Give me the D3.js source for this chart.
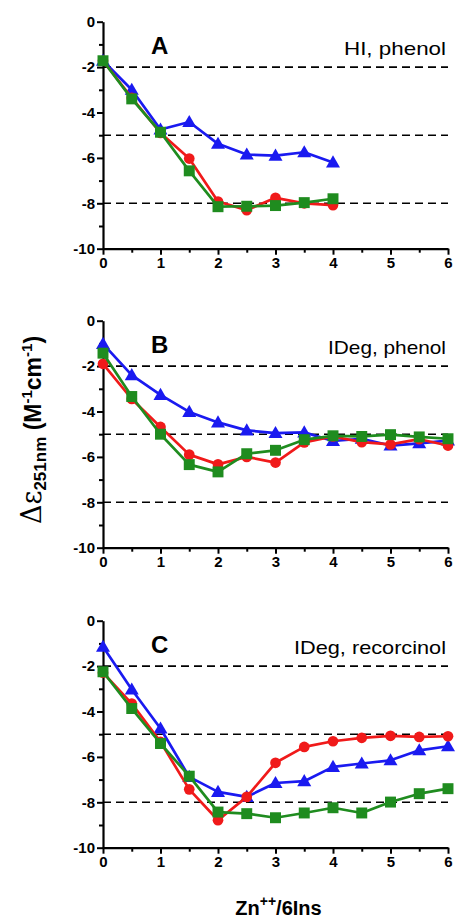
<!DOCTYPE html>
<html>
<head>
<meta charset="utf-8">
<script src="https://cdn.jsdelivr.net/npm/d3@7"></script>
<style>
  html, body { margin: 0; padding: 0; background: #fff; }
  svg { display: block; }
  text { font-family: Arial, "Liberation Sans", Helvetica, sans-serif; }
</style>
</head>
<body>
<svg id="chart" width="455" height="918"></svg>
<script>
// ---------------- DATA ----------------
const panelLetters = ["A", "B", "C"];
const panelNotes = ["HI, phenol", "IDeg, phenol", "IDeg, recorcinol"];

const xA = [0, 0.5, 1, 1.5, 2, 2.5, 3, 3.5, 4];
const xBC = [0, 0.5, 1, 1.5, 2, 2.5, 3, 3.5, 4, 4.5, 5, 5.5, 6];

// Panel A (HI, phenol)
const aBlue  = [-1.72, -3.0, -4.75, -4.42, -5.38, -5.85, -5.9, -5.75, -6.2];
const aRed   = [-1.72, -3.35, -4.9, -6.03, -7.92, -8.3, -7.76, -8.0, -8.08];
const aGreen = [-1.72, -3.4, -4.87, -6.57, -8.15, -8.13, -8.1, -7.97, -7.8];

// Panel B (IDeg, phenol)
const bBlue  = [-1.02, -2.4, -3.27, -4.02, -4.48, -4.83, -4.95, -4.92, -5.3, -5.2, -5.5, -5.4, -5.28];
const bRed   = [-1.9, -3.45, -4.68, -5.9, -6.33, -6.0, -6.25, -5.36, -5.1, -5.35, -5.45, -5.22, -5.5];
const bGreen = [-1.43, -3.34, -5.0, -6.34, -6.66, -5.86, -5.71, -5.24, -5.07, -5.1, -5.02, -5.12, -5.2];

// Panel C (IDeg, recorcinol)
const cBlue  = [-1.15, -3.03, -4.75, -6.88, -7.54, -7.76, -7.15, -7.07, -6.44, -6.29, -6.15, -5.71, -5.53];
const cRed   = [-2.29, -3.65, -5.34, -7.43, -8.79, -7.76, -6.26, -5.56, -5.31, -5.16, -5.07, -5.12, -5.09];
const cGreen = [-2.25, -3.87, -5.41, -6.85, -8.43, -8.5, -8.68, -8.47, -8.24, -8.47, -7.99, -7.62, -7.4];

const refLines = [-2, -5, -8];
const yMajorTicks = [0, -2, -4, -6, -8, -10];
const yMinorTicks = [-1, -3, -5, -7, -9];
const xMajorTicks = [0, 1, 2, 3, 4, 5, 6];
const xMinorTicks = [0.5, 1.5, 2.5, 3.5, 4.5, 5.5];

const panels = [
  { x: xA, series: [aBlue, aRed, aGreen] },
  { x: xBC, series: [bBlue, bRed, bGreen] },
  { x: xBC, series: [cBlue, cRed, cGreen] }
];

// ---------------- STYLE / LAYOUT ----------------
const colors = ["#1a1af0", "#f01a1a", "#1f8c1f"];
const shapes = [d3.symbolTriangle, d3.symbolCircle, d3.symbolSquare];
const shapeSizes = [85, 90, 120];
const panelTops = [21.7, 320.7, 620.7];
const plotH = 227;
const xLeft = 103, xRight = 448;
const noteWidths = [102, 118, 152];

const svg = d3.select("#chart");
const x = d3.scaleLinear().domain([0, 6]).range([xLeft, xRight]);

panels.forEach((p, i) => {
  const top = panelTops[i];
  const y = d3.scaleLinear().domain([-10, 0]).range([top + plotH, top]);
  const g = svg.append("g");

  // reference dashed lines
  g.selectAll("line.ref").data(refLines).enter().append("line")
    .attr("x1", x(0)).attr("x2", x(6))
    .attr("y1", d => y(d)).attr("y2", d => y(d))
    .attr("stroke", "#000").attr("stroke-width", 1.6)
    .attr("stroke-dasharray", "8,5");

  // y axis minor
  g.append("g").attr("transform", `translate(${xLeft},0)`)
    .call(d3.axisLeft(y).tickValues(yMinorTicks).tickSize(4).tickSizeOuter(0).tickFormat(""))
    .call(a => a.select(".domain").remove())
    .call(a => a.selectAll("line").attr("stroke-width", 2));
  // y axis major
  const ya = g.append("g").attr("transform", `translate(${xLeft},0)`)
    .call(d3.axisLeft(y).tickValues(yMajorTicks).tickSize(6).tickSizeOuter(0).tickPadding(2)
      .tickFormat(d => String(d)));
  ya.select(".domain").attr("stroke-width", 2.2);
  ya.selectAll("line").attr("stroke-width", 2);
  ya.selectAll("text").attr("font-size", 15).attr("font-weight", "bold").attr("fill", "#000")
    .attr("font-family", "Arial, 'Liberation Sans', sans-serif");

  // x axis minor
  g.append("g").attr("transform", `translate(0,${top + plotH})`)
    .call(d3.axisBottom(x).tickValues(xMinorTicks).tickSize(4).tickSizeOuter(0).tickFormat(""))
    .call(a => a.select(".domain").remove())
    .call(a => a.selectAll("line").attr("stroke-width", 2));
  const xa = g.append("g").attr("transform", `translate(0,${top + plotH})`)
    .call(d3.axisBottom(x).tickValues(xMajorTicks).tickSize(6).tickSizeOuter(0).tickPadding(3)
      .tickFormat(d => String(d)));
  xa.select(".domain").attr("stroke-width", 2.2);
  xa.selectAll("line").attr("stroke-width", 2);
  xa.selectAll("text").attr("font-size", 15).attr("font-weight", "bold").attr("fill", "#000")
    .attr("font-family", "Arial, 'Liberation Sans', sans-serif");

  // series
  p.series.forEach((vals, s) => {
    const pts = vals.map((v, k) => [p.x[k], v]);
    g.append("path").datum(pts)
      .attr("fill", "none").attr("stroke", colors[s]).attr("stroke-width", 2.7)
      .attr("stroke-linejoin", "round")
      .attr("d", d3.line().x(d => x(d[0])).y(d => y(d[1])));
    g.selectAll(null).data(pts).enter().append("path")
      .attr("transform", d => `translate(${x(d[0])},${y(d[1]) + (s === 0 ? 1 : 0)})`)
      .attr("d", d3.symbol().type(shapes[s]).size(shapeSizes[s]))
      .attr("fill", colors[s]);
  });

  // panel letter
  g.append("text").attr("x", 151).attr("y", top + 32.5)
    .attr("font-size", 24).attr("font-weight", "bold").attr("fill", "#000")
    .text(panelLetters[i]);
  // note
  g.append("text").attr("x", 446).attr("y", top + 33).attr("text-anchor", "end")
    .attr("font-size", 19).attr("fill", "#000")
    .attr("textLength", noteWidths[i]).attr("lengthAdjust", "spacingAndGlyphs")
    .text(panelNotes[i]);
});

// y axis title
const yt = svg.append("text")
  .attr("transform", "translate(41,430) rotate(-90)")
  .attr("text-anchor", "middle").attr("fill", "#000");
yt.append("tspan").attr("font-family", "'DejaVu Serif', 'Liberation Serif', serif").attr("font-size", 27).text("Δε");
yt.append("tspan").attr("font-weight", "bold").attr("font-size", 17).attr("dy", 5).text("251nm");
yt.append("tspan").attr("font-weight", "bold").attr("font-size", 23).attr("dy", -5).text(" (M");
yt.append("tspan").attr("font-weight", "bold").attr("font-size", 15).attr("dy", -9).text("-1");
yt.append("tspan").attr("font-weight", "bold").attr("font-size", 23).attr("dy", 9).text("cm");
yt.append("tspan").attr("font-weight", "bold").attr("font-size", 15).attr("dy", -9).text("-1");
yt.append("tspan").attr("font-weight", "bold").attr("font-size", 23).attr("dy", 9).text(")");

// x axis title
const xt = svg.append("text")
  .attr("x", (xLeft + xRight) / 2 + 3).attr("y", 915)
  .attr("text-anchor", "middle").attr("font-weight", "bold").attr("fill", "#000");
xt.append("tspan").attr("font-size", 20).text("Zn");
xt.append("tspan").attr("font-size", 14).attr("dy", -9).text("++");
xt.append("tspan").attr("font-size", 20).attr("dy", 9).text("/6Ins");
</script>
</body>
</html>
